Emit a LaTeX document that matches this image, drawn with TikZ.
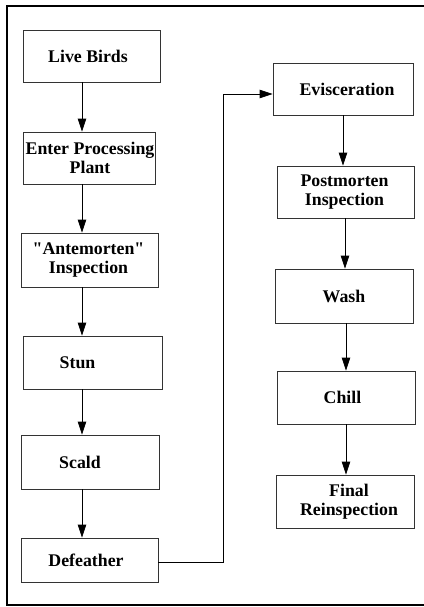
\documentclass[tikz,border=0pt]{standalone}
\usepackage{fontspec}
\setmainfont{Liberation Serif}[Ligatures=TeXOff]
\usetikzlibrary{arrows.meta}
\begin{document}
\begin{tikzpicture}[x=1pt,y=-1pt,
  box/.style={draw=black!80, line width=0.7pt, inner sep=0pt},
  lbl/.style={font=\fontsize{17.8}{19}\selectfont\bfseries, align=center, inner sep=0pt},
  arr/.style={draw=black, line width=0.8pt, -{Triangle[length=13pt,width=8.5pt]}},
  frame/.style={draw=black, line width=2pt}]
\useasboundingbox (0,0) rectangle (423,607);
\draw[frame] (440,6) -- (7,6) -- (7,605) -- (440,605);
% left column
\node[box, minimum width=137pt, minimum height=52pt, label={[lbl,xshift=-3.5pt]center:Live Birds}] (lb) at (91.5,56) {};
\node[box, minimum width=132pt, minimum height=52pt, label={[lbl,xshift=1pt]center:{Enter Processing\\Plant}}] (ep) at (89,158) {};
\node[box, minimum width=137pt, minimum height=54pt, label={[lbl,xshift=-1pt]center:{"Antemorten"\\Inspection}}] (am) at (89.5,260) {};
\node[box, minimum width=139pt, minimum height=53pt, label={[lbl,xshift=-15pt]center:Stun}] (st) at (92.5,362.5) {};
\node[box, minimum width=138pt, minimum height=54pt, label={[lbl,xshift=-10pt]center:Scald}] (sc) at (90,462) {};
\node[box, minimum width=137pt, minimum height=44pt, label={[lbl,xshift=-3.5pt]center:Defeather}] (df) at (89.5,560) {};
% right column
\node[box, minimum width=140pt, minimum height=52pt, label={[lbl,xshift=4pt]center:Evisceration}] (ev) at (343,89) {};
\node[box, minimum width=137pt, minimum height=52pt, label={[lbl,xshift=-1pt]center:{Postmorten\\Inspection}}] (pm) at (345.5,192) {};
\node[box, minimum width=138pt, minimum height=54pt, label={[lbl]center:Wash}] (wa) at (344,296) {};
\node[box, minimum width=138pt, minimum height=53pt, label={[lbl,xshift=-3.5pt]center:Chill}] (ch) at (346,397.5) {};
\node[box, minimum width=138pt, minimum height=53pt, label={[lbl,xshift=4pt]center:{Final\\Reinspection}}] (fr) at (345,501.5) {};
% arrow columns
\coordinate (la) at (82,0);
\coordinate (r1) at (343,0);
\coordinate (r2) at (345,0);
\coordinate (r3) at (346,0);
\coordinate (turn) at (223,0);
\draw[arr] (lb.south -| la) -- (ep.north -| la);
\draw[arr] (ep.south -| la) -- (am.north -| la);
\draw[arr] (am.south -| la) -- (st.north -| la);
\draw[arr] (st.south -| la) -- (sc.north -| la);
\draw[arr] (sc.south -| la) -- (df.north -| la);
\draw[arr] ([yshift=-2pt]df.east) -| (turn |- 0,94) -- ([yshift=-5pt]ev.west);
\draw[arr] (ev.south -| r1) -- (pm.north -| r1);
\draw[arr] (pm.south -| r2) -- (wa.north -| r2);
\draw[arr] (wa.south -| r3) -- (ch.north -| r3);
\draw[arr] (ch.south -| r3) -- (fr.north -| r3);
\end{tikzpicture}
\end{document}
